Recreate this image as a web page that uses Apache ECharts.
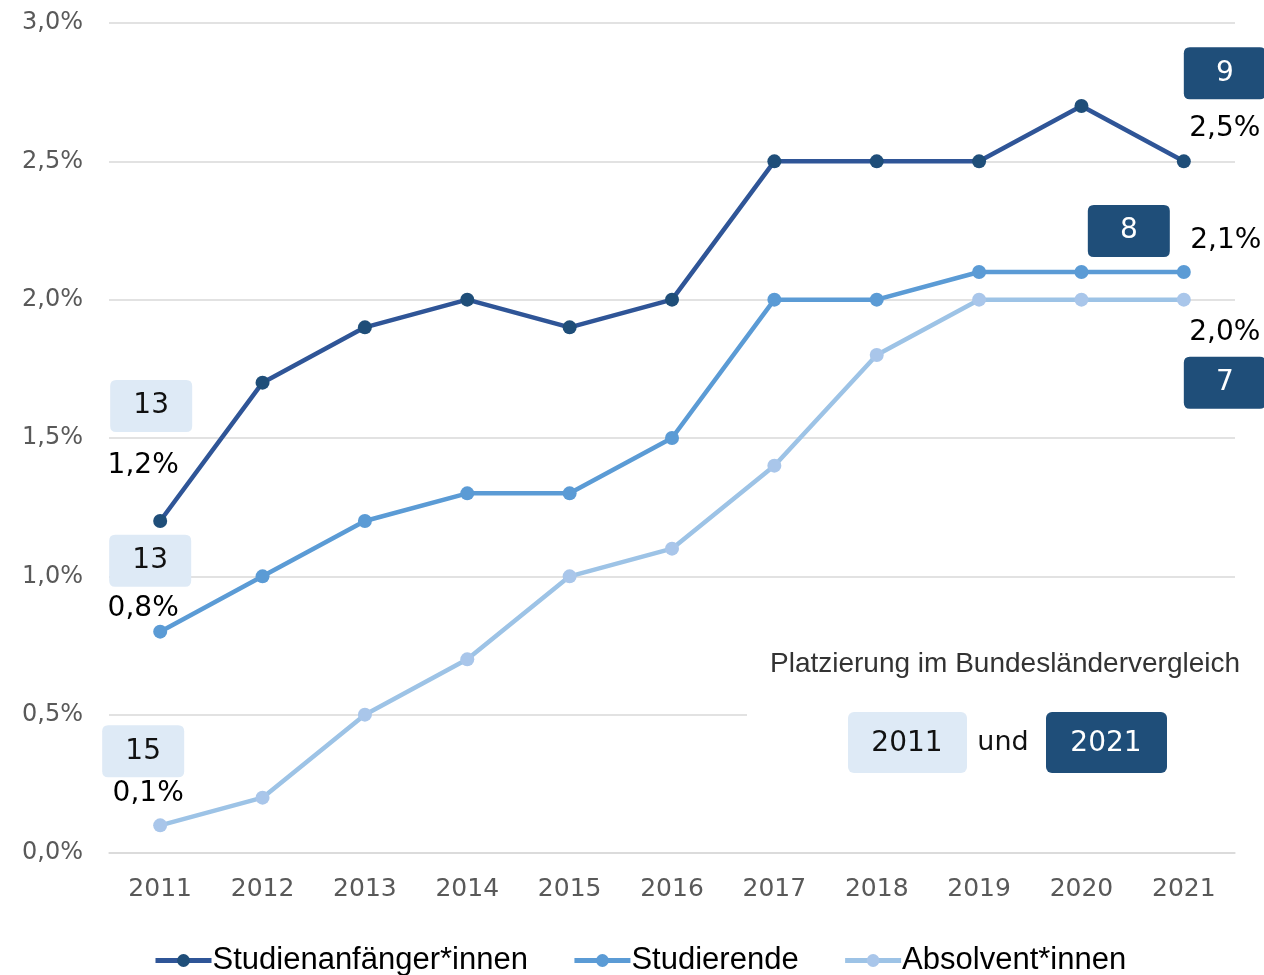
<!DOCTYPE html>
<html>
<head>
<meta charset="utf-8">
<script src="https://cdn.jsdelivr.net/npm/echarts@6/dist/echarts.min.js"></script>
<style>
  html, body { margin: 0; padding: 0; background: #fff; }
  #main { width: 1264px; height: 975px; }
</style>
</head>
<body>
<div id="main"></div>
<script>
var years = ['2011', '2012', '2013', '2014', '2015', '2016', '2017', '2018', '2019', '2020', '2021'];
var anfaenger = [1.2, 1.7, 1.9, 2.0, 1.9, 2.0, 2.5, 2.5, 2.5, 2.7, 2.5];
var studierende = [0.8, 1.0, 1.2, 1.3, 1.3, 1.5, 2.0, 2.0, 2.1, 2.1, 2.1];
var absolventen = [0.1, 0.2, 0.5, 0.7, 1.0, 1.1, 1.4, 1.8, 2.0, 2.0, 2.0];
var seriesNames = ['Studienanfänger*innen', 'Studierende', 'Absolvent*innen'];
// Platzierung 2011 / 2021
var rank2011 = [13, 13, 15];
var rank2021 = [9, 8, 7];

var lineColors = ['#2F5597', '#5B9BD5', '#9DC3E6'];
var dotColors = ['#1F4E79', '#5B9BD5', '#A9C6EA'];
var lightBox = '#DEEAF6';
var darkBox = '#1F4E79';
var font = '"DejaVu Sans", sans-serif';
var boxPath = 'path://M6,0H76Q82,0 82,6V46Q82,52 76,52H6Q0,52 0,46V6Q0,0 6,0Z';

function pct(v) {
    return v.toFixed(1).replace('.', ',') + '%';
}

// label-Offsets für Anfangs- und Endwert
var firstOffset = [[-17, -55], [-17, -23], [-12, -32]];
var lastOffset = [[41, -33], [42, -31], [41, 33]];
// Box-Offsets
var firstBox = [[-9, -115], [-10, -71], [-17, -74]];
var lastBox = [[41, -88], [-55, -41], [41, 83]];

var myChart = echarts.init(document.getElementById('main'));

var allData = [anfaenger, studierende, absolventen];
var series = allData.map(function (arr, s) {
    var last = arr.length - 1;
    var data = arr.map(function (v, i) {
        if (i === 0 || i === last) {
            return {
                value: v,
                label: {
                    show: true,
                    position: 'inside',
                    offset: i === 0 ? firstOffset[s] : lastOffset[s],
                    formatter: function (p) { return pct(p.value); },
                    color: '#000',
                    fontSize: 28,
                    fontFamily: font
                }
            };
        }
        return v;
    });
    return {
        name: seriesNames[s],
        type: 'line',
        data: data,
        symbol: 'circle',
        symbolSize: 14,
        z: 10 - s,
        lineStyle: { color: lineColors[s], width: 4.5 },
        itemStyle: { color: dotColors[s] },
        markPoint: {
            symbol: boxPath,
            symbolSize: [82, 52],
            silent: true,
            data: [
                {
                    coord: [0, arr[0]],
                    value: rank2011[s],
                    symbolOffset: firstBox[s],
                    itemStyle: { color: lightBox },
                    label: { color: '#111' }
                },
                {
                    coord: [last, arr[last]],
                    value: rank2021[s],
                    symbolOffset: lastBox[s],
                    itemStyle: { color: darkBox },
                    label: { color: '#fff' }
                }
            ],
            label: {
                show: true,
                position: 'inside',
                fontSize: 28,
                fontFamily: font,
                formatter: '{c}'
            }
        }
    };
});

var option = {
    animation: false,
    color: lineColors,
    grid: {
        left: 109,
        right: 29,
        top: 23,
        bottom: 122
    },
    legend: {
        bottom: -6,
        left: 148,
        itemGap: 44,
        itemWidth: 56,
        itemHeight: 16,
        lineStyle: { width: 5 },
        textStyle: { fontSize: 31, color: '#000', fontFamily: '"Liberation Sans", sans-serif', padding: [0, 0, 0, -4] },
        data: seriesNames
    },
    xAxis: {
        type: 'category',
        data: years,
        boundaryGap: true,
        axisTick: { show: false },
        axisLine: { lineStyle: { color: '#D9D9D9', width: 1.5 } },
        axisLabel: { fontSize: 25, color: '#595959', margin: 24, fontFamily: font }
    },
    yAxis: {
        type: 'value',
        min: 0,
        max: 3,
        interval: 0.5,
        axisLine: { show: false },
        axisTick: { show: false },
        splitLine: { lineStyle: { color: '#D9D9D9', width: 1.5 } },
        axisLabel: {
            fontSize: 24,
            color: '#595959',
            margin: 26,
            fontFamily: font,
            formatter: function (v) { return pct(v); }
        }
    },
    graphic: [
        {
            type: 'rect',
            left: 747,
            top: 640,
            shape: { width: 517, height: 150 },
            style: { fill: '#fff' },
            z: 5
        },
        {
            type: 'text',
            left: 770,
            top: 650,
            z: 6,
            style: {
                text: 'Platzierung im Bundesländervergleich',
                fontSize: 28,
                fill: '#333',
                fontFamily: '"Liberation Sans", sans-serif'
            }
        },
        {
            type: 'rect',
            left: 848,
            top: 712,
            shape: { width: 119, height: 61, r: 6 },
            style: { fill: lightBox },
            z: 6
        },
        {
            type: 'text',
            x: 907,
            y: 744,
            z: 7,
            style: { text: '2011', fontSize: 28, fill: '#111', align: 'center', verticalAlign: 'middle', fontFamily: font }
        },
        {
            type: 'text',
            x: 1003,
            y: 743,
            z: 7,
            style: { text: 'und', fontSize: 27, fill: '#111', align: 'center', verticalAlign: 'middle', fontFamily: font }
        },
        {
            type: 'rect',
            left: 1046,
            top: 712,
            shape: { width: 121, height: 61, r: 6 },
            style: { fill: darkBox },
            z: 6
        },
        {
            type: 'text',
            x: 1106,
            y: 744,
            z: 7,
            style: { text: '2021', fontSize: 28, fill: '#fff', align: 'center', verticalAlign: 'middle', fontFamily: font }
        }
    ],
    series: series
};

myChart.setOption(option);
</script>
</body>
</html>
